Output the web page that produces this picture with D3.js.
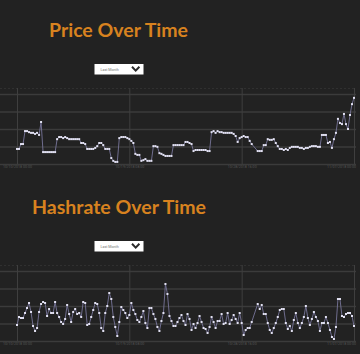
<!DOCTYPE html>
<html>
<head>
<meta charset="utf-8">
<script src="https://cdn.jsdelivr.net/npm/d3@7"></script>
<style>
  html, body { margin: 0; padding: 0; background: #222222; }
  svg { display: block; }
</style>
</head>
<body>
<svg id="chart" width="360" height="354"></svg>
<script>
// ---------- DATA ----------
const titles = ["Price Over Time", "Hashrate Over Time"];
const dropdownLabel = "Last Month";
const startDate = new Date(2018, 9, 10, 0, 0);
const stepHours = 4;
const slotCount = 169;
const missingSlots = [118, 119];
const tickSlots = [0, 56, 112, 168];

const priceValues = [
  6443, 6443, 6457, 6457, 6494, 6494, 6491, 6489, 6489, 6486,
  6489, 6483, 6520, 6434, 6434, 6434, 6434, 6434, 6434, 6434,
  6471, 6477, 6477, 6474, 6477, 6474, 6471, 6471, 6471, 6471,
  6471, 6471, 6460, 6460, 6457, 6443, 6443, 6443, 6443, 6446,
  6451, 6460, 6460, 6454, 6443, 6443, 6443, 6417, 6409, 6406,
  6406, 6474, 6477, 6477, 6477, 6474, 6471, 6466, 6460, 6429,
  6426, 6426, 6409, 6411, 6414, 6409, 6409, 6409, 6451, 6451,
  6449, 6431, 6429, 6426, 6423, 6423, 6423, 6423, 6454, 6454,
  6454, 6454, 6454, 6454, 6463, 6463, 6460, 6457, 6437, 6440,
  6440, 6440, 6440, 6440, 6440, 6437, 6437, 6491, 6494, 6489,
  6494, 6491, 6491, 6489, 6489, 6489, 6489, 6489, 6486, 6480,
  6463, 6474, 6477, 6480, 6477, 6477, 6466, 6457,
  6437, 6437, 6437, 6454, 6454, 6471, 6469, 6469, 6471, 6460,
  6451, 6443, 6443, 6440, 6443, 6440, 6446, 6449, 6449, 6449,
  6449, 6446, 6446, 6443, 6446, 6446, 6449, 6451, 6451, 6451,
  6449, 6449, 6483, 6483, 6483, 6460, 6463, 6446, 6471, 6489,
  6529, 6517, 6514, 6543, 6514, 6500, 6540, 6571, 6589
];
const priceTicks = [6400, 6450, 6500, 6550, 6600];

const hashValues = [
  44.57, 46.86, 46.57, 46.57, 48.00, 49.43, 50.86, 48.29, 44.29, 42.86,
  43.71, 48.29, 50.57, 51.14, 50.86, 47.14, 49.14, 48.00, 48.00, 51.14,
  48.00, 46.86, 45.43, 44.86, 46.29, 50.29, 47.71, 45.43, 48.29, 49.14,
  47.71, 48.00, 46.86, 51.14, 50.86, 44.57, 44.86, 46.86, 48.86, 50.86,
  50.57, 48.00, 43.71, 42.86, 48.00, 50.00, 53.71, 52.00, 46.86, 44.00,
  41.43, 45.43, 49.71, 48.86, 48.00, 46.57, 47.43, 50.86, 48.86, 47.71,
  46.00, 45.43, 46.86, 48.57, 45.14, 43.71, 49.43, 49.43, 47.71, 46.29,
  44.00, 42.86, 45.71, 48.00, 56.29, 53.43, 47.14, 45.71, 44.29, 44.29,
  45.43, 46.57, 47.43, 45.71, 44.57, 47.71, 46.29, 43.14, 44.86, 43.71,
  45.14, 47.14, 45.43, 43.71, 43.43, 42.29, 44.00, 46.86, 45.43, 43.71,
  45.71, 45.71, 47.71, 44.86, 45.14, 48.00, 44.86, 46.00, 47.43, 46.29,
  45.14, 48.00, 45.14, 41.71, 43.14, 43.71, 43.71, 45.43,
  50.57, 49.14, 50.29, 47.71, 47.71, 45.14, 43.14, 42.29, 43.71, 45.14,
  46.86, 48.86, 49.14, 49.14, 45.14, 43.43, 44.29, 42.86, 46.00, 48.00,
  45.14, 43.71, 45.14, 46.86, 50.00, 46.57, 44.57, 46.29, 48.29, 46.86,
  45.71, 42.86, 45.14, 45.14, 46.86, 45.14, 43.14, 41.14, 40.57, 44.00,
  52.00, 52.00, 47.14, 46.86, 47.71, 48.00, 48.00, 47.14, 44.29
];
const hashTicks = [40, 45, 50, 55, 60];

// ---------- BUILD ----------
const slotDate = s => new Date(startDate.getTime() + s * stepHours * 3600 * 1000);
const slots = d3.range(slotCount).filter(s => !missingSlots.includes(s));
const dates = slots.map(slotDate);
const tickDates = tickSlots.map(slotDate);
const fmt = d3.timeFormat("%m/%d/%Y %H:%M");

const svg = d3.select("#chart");
const orange = "#d8821f";

function drawPanel(cfg) {
  const g = svg.append("g");
  // title
  g.append("text")
    .attr("x", cfg.titleX).attr("y", cfg.titleY)
    .attr("font-family", "Lato, 'Open Sans', sans-serif")
    .attr("font-weight", 700)
    .attr("font-size", 19.5)
    .attr("fill", orange)
    .attr("textLength", cfg.titleW)
    .attr("lengthAdjust", "spacingAndGlyphs")
    .text(cfg.title);

  // dropdown
  const dd = g.append("g").attr("transform", `translate(94.5,${cfg.ddY})`);
  dd.append("rect").attr("width", 49).attr("height", 10.5).attr("fill", "#ffffff");
  dd.append("text").attr("x", 6).attr("y", 6.6)
    .attr("font-family", "Roboto, sans-serif").attr("font-size", 3.6)
    .attr("fill", "#777").text(dropdownLabel);
  dd.append("path").attr("d", "M37.5,2.8 L41.2,6.6 L44.9,2.8")
    .attr("fill", "none").attr("stroke", "#2a2a2a").attr("stroke-width", 2);

  const x = d3.scaleTime().domain([dates[0], dates[dates.length - 1]]).range([17, 354]);
  const y = d3.scaleLinear().domain([cfg.ticks[0], cfg.ticks[cfg.ticks.length - 1]])
    .range([cfg.bottom, cfg.top]);

  // top dotted border
  g.append("line").attr("x1", 0).attr("x2", 356)
    .attr("y1", cfg.top - 5.5).attr("y2", cfg.top - 5.5)
    .attr("stroke", "#303030").attr("stroke-dasharray", "2,2");

  // horizontal grid
  const yAxis = g.append("g").attr("transform", "translate(0,0)")
    .call(d3.axisRight(y).tickValues(cfg.ticks).tickSize(356).tickFormat(""));
  yAxis.select(".domain").remove();
  yAxis.selectAll("line").attr("stroke", "#3b3b3b").attr("stroke-width", 1.6);

  // vertical grid + labels
  const xAxis = g.append("g").attr("transform", `translate(0,${cfg.bottom})`)
    .call(d3.axisBottom(x).tickValues(tickDates).tickSize(-(cfg.bottom - cfg.top + 6))
      .tickPadding(1.2).tickFormat(fmt));
  xAxis.select(".domain").remove();
  xAxis.selectAll("line").attr("stroke", "#3f3f3f").attr("stroke-width", 1);
  xAxis.selectAll("text").attr("font-size", 3.6).attr("fill", "#555")
    .attr("font-family", "Roboto, sans-serif")
    .attr("text-anchor", (d, i) => i === tickDates.length - 1 ? "end" : "middle")
    .attr("dx", (d, i) => i === tickDates.length - 1 ? 1.5 : 0);

  const pts = cfg.values.map((v, i) => ({ d: dates[i], v }));
  g.append("path").datum(pts)
    .attr("fill", "none").attr("stroke", "#77759a").attr("stroke-width", 0.9)
    .attr("d", d3.line().x(p => x(p.d)).y(p => y(p.v)));
  g.selectAll("rect.pt").data(pts).enter().append("rect").attr("class", "pt")
    .attr("x", p => x(p.d) - 1).attr("y", p => y(p.v) - 1)
    .attr("width", 2).attr("height", 2).attr("fill", "#e2e1f2");
}

drawPanel({ title: titles[0], titleX: 49, titleY: 37, titleW: 139, ddY: 64,
  values: priceValues, ticks: priceTicks, top: 94, bottom: 164 });
drawPanel({ title: titles[1], titleX: 32, titleY: 214, titleW: 174, ddY: 241,
  values: hashValues, ticks: hashTicks, top: 271, bottom: 341 });
</script>
</body>
</html>
